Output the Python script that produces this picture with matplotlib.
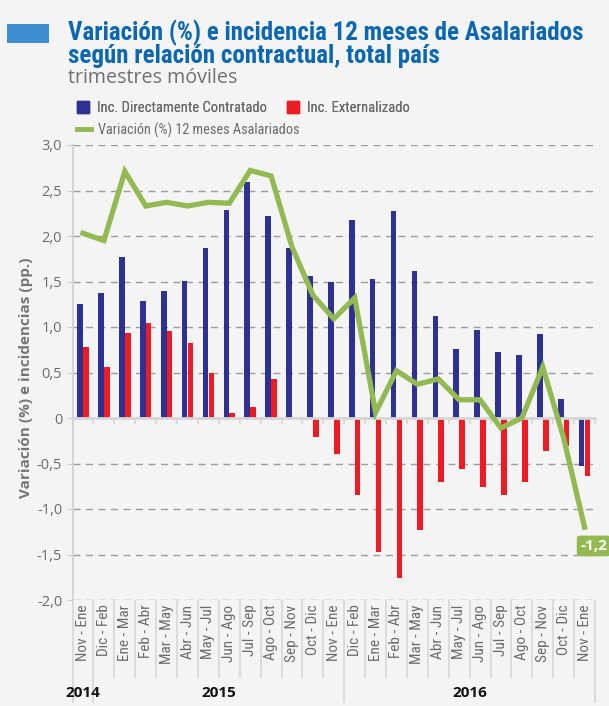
import matplotlib
matplotlib.use("Agg")
import matplotlib.pyplot as plt
import matplotlib.transforms as mtransforms
from matplotlib import font_manager
from matplotlib.lines import Line2D
from matplotlib.patches import Patch, Rectangle
from matplotlib.ticker import FuncFormatter, FixedLocator

# trimestres moviles, nov-ene 2014 a nov-ene 2017
periodos = ["Nov - Ene", "Dic - Feb", "Ene - Mar", "Feb - Abr", "Mar - May", "Abr - Jun",
            "May - Jul", "Jun - Ago", "Jul - Sep", "Ago - Oct", "Sep - Nov", "Oct - Dic",
            "Nov - Ene", "Dic - Feb", "Ene - Mar", "Feb - Abr", "Mar - May", "Abr - Jun",
            "May - Jul", "Jun - Ago", "Jul - Sep", "Ago - Oct", "Sep - Nov", "Oct - Dic",
            "Nov - Ene"]
inc_directos = [1.25, 1.37, 1.77, 1.29, 1.40, 1.51, 1.87, 2.29, 2.59, 2.22, 1.87, 1.56, 1.50,
                2.18, 1.53, 2.28, 1.61, 1.12, 0.76, 0.97, 0.73, 0.69, 0.92, 0.21, -0.53]
inc_externos = [0.78, 0.56, 0.93, 1.04, 0.96, 0.82, 0.49, 0.06, 0.12, 0.43, 0.0, -0.21, -0.40,
                -0.85, -1.47, -1.76, -1.23, -0.70, -0.56, -0.76, -0.85, -0.70, -0.36, -0.31, -0.64]
variacion = [2.03, 1.95, 2.71, 2.33, 2.37, 2.33, 2.37, 2.36, 2.72, 2.66, 1.88, 1.35, 1.09,
             1.32, 0.06, 0.52, 0.37, 0.43, 0.20, 0.20, -0.11, 0.0, 0.56, -0.22, -1.2]
anios = ["2014", "2015", "2016"]
anio_inicio = [0, 1, 13]
anio_fin = [0, 12, 24]

AZUL = "#2e3192"
ROJO = "#ed1c24"
VERDE = "#93b953"
TITULO = "#0b67b0"
GRIS = "#6b6b6b"
FONDO = "#f4f4f4"


def elegirFuente(opciones):
    disponibles = {f.name for f in font_manager.fontManager.ttflist}
    for nombre in opciones:
        if nombre in disponibles:
            return nombre
    return "DejaVu Sans"


estrecha = elegirFuente(["Liberation Sans Narrow", "Roboto Condensed", "Open Sans Condensed", "Roboto"])
normal = elegirFuente(["Open Sans", "Noto Sans", "DejaVu Sans"])

W, H = 609, 706
fig = plt.figure(figsize=(W / 100, H / 100), dpi=100, facecolor=FONDO)
ax = fig.add_axes([72.6 / W, 1 - 600 / H, (595 - 72.6) / W, 455 / H])
ax.set_facecolor(FONDO)

x = list(range(len(periodos)))
ancho = 0.27
ax.bar([i - 0.14 for i in x], inc_directos, width=ancho, color=AZUL, zorder=2)
ax.bar([i + 0.14 for i in x], inc_externos, width=ancho, color=ROJO, zorder=2)
ax.plot(x, variacion, color=VERDE, lw=3.8, solid_joinstyle="miter", zorder=4)

ax.set_xlim(-0.5, len(periodos) - 0.5)
ax.set_ylim(-2.0, 3.0)
ax.yaxis.set_major_locator(FixedLocator([-2.0 + 0.5 * k for k in range(11)]))
ax.yaxis.set_major_formatter(FuncFormatter(
    lambda v, p: "0" if abs(v) < 1e-9 else f"{v:.1f}".replace(".", ",")))
ax.yaxis.grid(True, linestyle=(0, (5, 4)), color="#9c9c9c", lw=1)
ax.set_axisbelow(True)

for lado in ["top", "right"]:
    ax.spines[lado].set_visible(False)
ax.spines["left"].set_color("#d2d2d2")
ax.spines["left"].set_linewidth(1.3)
ax.spines["bottom"].set_position(("data", 0))
ax.spines["bottom"].set_color("#d6d6d6")
ax.spines["bottom"].set_linewidth(2)

bordes = [i - 0.5 for i in range(len(periodos) + 1)]
ax.set_xticks(bordes)
ax.tick_params(axis="x", length=4, width=1.2, color="#d6d6d6", labelbottom=False)
ax.tick_params(axis="y", length=4, width=1, color="#d2d2d2", labelcolor=GRIS, labelsize=10.5)
for t in ax.get_yticklabels():
    t.set_family(normal)

ax.set_ylabel("Variación (%) e incidencias (pp.)", family=normal, fontweight="bold",
              color="#757575", fontsize=11)
ax.yaxis.set_label_coords(-0.076, 0.488)

# etiquetas de periodos y separadores bajo el eje
trans = mtransforms.blended_transform_factory(ax.transData, ax.transAxes)
for i, lab in enumerate(periodos):
    ax.text(i, -0.01, lab, transform=trans, rotation=90, ha="center", va="top",
            family=estrecha, fontsize=11, color=GRIS)
largos = [anio_inicio[0] - 0.5] + [f + 0.5 for f in anio_fin]
cortos = [b for b in bordes if b not in largos]
ax.vlines(cortos, -0.171, 0, transform=trans, clip_on=False, color="#d6d6d6", lw=1.2)
ax.vlines(largos, -0.226, 0, transform=trans, clip_on=False, color="#d6d6d6", lw=1.2)
for nombre, a, b in zip(anios, anio_inicio, anio_fin):
    ax.text((a + b) / 2, -0.204, nombre, transform=trans, ha="center", va="center",
            family=normal, fontweight="bold", fontsize=11, color="#111111")

ax.annotate("-1,2", xy=(x[-1], variacion[-1]), xytext=(6.5, -13.5), textcoords="offset points",
            ha="center", va="center", color="white", fontweight="bold", fontsize=11,
            family=normal, annotation_clip=False, zorder=6,
            bbox=dict(boxstyle="round,pad=0.22", fc=VERDE, ec="none"))

# cabecera
fig.add_artist(Rectangle((7 / W, 1 - 43 / H), 42 / W, 19 / H, transform=fig.transFigure,
                         color="#3d8dcf", lw=0))
fig.text(68 / W, 1 - 40 / H, "Variación (%) e incidencia 12 meses de Asalariados",
         family=estrecha, fontweight="bold", fontsize=18, color=TITULO, va="baseline")
fig.text(68 / W, 1 - 63 / H, "según relación contractual, total país",
         family=estrecha, fontweight="bold", fontsize=18, color=TITULO, va="baseline")
fig.text(68 / W, 1 - 83 / H, "trimestres móviles", family=normal, fontsize=14.2,
         color="#707070", va="baseline")

leg1 = fig.legend(handles=[Patch(color=AZUL, label="Inc. Directamente Contratado"),
                           Patch(color=ROJO, label="Inc. Externalizado")],
                  ncol=2, loc="center left", bbox_to_anchor=(77 / W, 1 - 108 / H),
                  frameon=False, handlelength=0.85, handleheight=0.85, handletextpad=0.5,
                  columnspacing=1.4, prop={"family": estrecha, "size": 10.5}, labelcolor=GRIS,
                  borderpad=0, borderaxespad=0)
fig.legend(handles=[Line2D([], [], color=VERDE, lw=3.5, label="Variación (%) 12 meses Asalariados")],
           loc="center left", bbox_to_anchor=(77 / W, 1 - 130 / H), frameon=False,
           handlelength=1.0, handletextpad=0.45, prop={"family": estrecha, "size": 10.3},
           labelcolor=GRIS, borderpad=0, borderaxespad=0)
fig.add_artist(leg1)

fig.savefig("out.png", dpi=100, facecolor=FONDO)
